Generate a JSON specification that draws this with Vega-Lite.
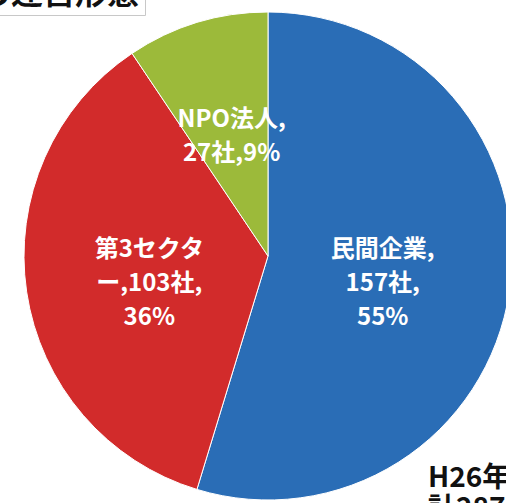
{
  "$schema": "https://vega.github.io/schema/vega-lite/v6.json",
  "width": 506,
  "height": 503,
  "autosize": "none",
  "padding": 0,
  "background": "white",
  "config": {"view": {"stroke": null}},
  "title": {
    "text": ["H26年", "計287社"],
    "orient": "bottom",
    "anchor": "end",
    "frame": "group",
    "align": "left",
    "dx": -78,
    "offset": -38,
    "fontSize": 28,
    "fontWeight": "bold",
    "color": "#111111",
    "font": "Noto Sans CJK JP",
    "lineHeight": 31
  },
  "data": {
    "values": [
      {"type": "民間企業", "rank": 1, "count": 157, "label": "民間企業,\n157社,\n55%"},
      {"type": "第3セクター", "rank": 2, "count": 103, "label": "第3セクタ\nー,103社,\n36%"},
      {"type": "NPO法人", "rank": 3, "count": 27, "label": "NPO法人,\n27社,9%"}
    ]
  },
  "encoding": {
    "theta": {"field": "count", "type": "quantitative", "stack": true},
    "order": {"field": "rank", "type": "quantitative"}
  },
  "layer": [
    {
      "mark": {"type": "arc", "outerRadius": 244, "xOffset": 15, "yOffset": 4.5, "stroke": "white", "strokeWidth": 1},
      "encoding": {
        "color": {
          "field": "type",
          "type": "nominal",
          "scale": {"domain": ["民間企業", "第3セクター", "NPO法人"], "range": ["#2A6DB6", "#D22B2B", "#9CBA3A"]},
          "legend": {
            "title": "の運営形態",
            "values": [],
            "orient": "top-left",
            "offset": -26,
            "padding": 5,
            "strokeColor": "#c8c8c8",
            "fillColor": "white",
            "titleFontSize": 32,
            "titleFontWeight": "bold",
            "titleColor": "#111111",
            "titleFont": "Noto Sans CJK JP",
            "titlePadding": 0
          }
        }
      }
    },
    {
      "mark": {"type": "text", "radius": 118, "xOffset": 13, "yOffset": -19, "lineBreak": "\n", "fill": "white", "fontSize": 24, "fontWeight": "bold", "font": "Noto Sans CJK JP", "lineHeight": 34, "align": "center", "baseline": "middle"},
      "encoding": {
        "text": {"field": "label", "type": "nominal"}
      }
    }
  ]
}
